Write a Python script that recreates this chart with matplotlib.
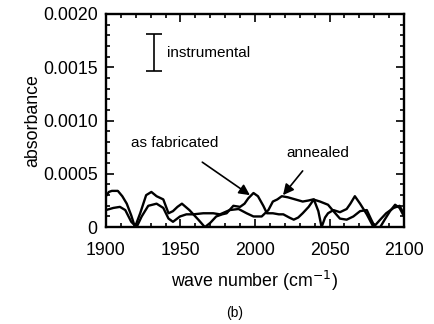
import numpy as np
import matplotlib.pyplot as plt
from matplotlib.ticker import MultipleLocator, FixedLocator

plt.rcParams['font.family'] = ['Liberation Sans', 'DejaVu Sans']

# "as fabricated" spectrum (wave number, absorbance)
fab_wn = [1900, 1902, 1904, 1908, 1911, 1914, 1917, 1919.5, 1923, 1927, 1930.5,
          1934, 1938.5, 1942, 1945, 1948, 1951, 1956, 1962, 1966.4, 1970, 1974,
          1978, 1981, 1985.5, 1990, 1993, 1995.5, 1999, 2002, 2005.6, 2008,
          2012, 2016, 2019, 2023, 2026, 2029, 2032, 2036, 2039.5, 2042.5,
          2044.7, 2047, 2049, 2052.6, 2057, 2061.5, 2064, 2067, 2070.5, 2075,
          2079.5, 2084, 2088, 2091, 2093, 2097, 2100]
fab_abs = [0.00029, 0.00033, 0.00034, 0.00034, 0.00029, 0.00022, 0.00011, 0.0,
           0.00013, 0.00030, 0.00033, 0.00029, 0.00026, 0.00013, 0.00015,
           0.00019, 0.00022, 0.00016, 0.00007, 0.0, 0.00004, 0.00010, 0.00012,
           0.00013, 0.00020, 0.00019, 0.00022, 0.00027, 0.00032, 0.00029,
           0.00020, 0.00013, 0.00013, 0.00012, 0.00012, 0.00009, 0.00007,
           0.00009, 0.00013, 0.00019, 0.00026, 0.00015, 0.0, 0.00009, 0.00013,
           0.00016, 0.00014, 0.00017, 0.00022, 0.00029, 0.00022, 0.00012, 0.0,
           0.00007, 0.00013, 0.00016, 0.00018, 0.00020, 0.00012]

# "annealed" spectrum
ann_wn = [1900, 1905, 1909.4, 1913, 1917, 1920.6, 1924, 1928.4, 1934, 1938.5,
          1942, 1945, 1949.7, 1954, 1958.6, 1965.3, 1972, 1976.5, 1983, 1989,
          1994.4, 1999, 2004.5, 2009, 2012, 2015, 2018, 2022, 2027, 2032,
          2036, 2039, 2043.6, 2049, 2052.6, 2057, 2061.5, 2066, 2070.5, 2075,
          2078, 2080.5, 2084, 2087, 2090.6, 2094, 2097, 2100]
ann_abs = [0.00016, 0.00018, 0.00019, 0.00016, 0.00005, 0.0, 0.00010, 0.00020,
           0.00022, 0.00018, 0.00008, 0.00005, 0.00010, 0.00012, 0.00012,
           0.00013, 0.00013, 0.00012, 0.00016, 0.00017, 0.00013, 0.00010,
           0.00010, 0.00016, 0.00024, 0.00026, 0.00029, 0.00028, 0.00026,
           0.00024, 0.00025, 0.00026, 0.00024, 0.00021, 0.00015, 0.00008,
           0.00007, 0.00010, 0.00015, 0.00016, 0.00007, 0.0, 0.0, 0.00007,
           0.00015, 0.00021, 0.00018, 0.00010]

# instrumental error bar
err_x = 1932
err_lo, err_hi = 0.00146, 0.00181

fig = plt.figure(figsize=(4.34, 3.24), dpi=100)
ax = fig.add_axes([0.244, 0.299, 0.687, 0.658])

ax.plot(fab_wn, fab_abs, color='black', lw=1.7)
ax.plot(ann_wn, ann_abs, color='black', lw=1.7)

ax.errorbar([err_x], [(err_lo + err_hi) / 2], yerr=[[(err_hi - err_lo) / 2]],
            fmt='none', ecolor='black', elinewidth=1.2, capsize=5.5, capthick=1.2)
ax.text(1941, 0.00163, 'instrumental', fontsize=11, va='center', ha='left')

ax.annotate('as fabricated', xy=(1996.6, 0.00030), xytext=(1946, 0.00079),
            fontsize=11, ha='center', va='center',
            arrowprops=dict(arrowstyle='-|>', color='black', lw=1.2,
                            mutation_scale=16, shrinkA=12, shrinkB=0))
ax.annotate('annealed', xy=(2018.8, 0.00030), xytext=(2042, 0.00070),
            fontsize=11, ha='center', va='center',
            arrowprops=dict(arrowstyle='-|>', color='black', lw=1.2,
                            mutation_scale=16, shrinkA=8, shrinkB=0))

ax.set_xlim(1900, 2100)
ax.set_ylim(0, 0.0020)
ax.xaxis.set_major_locator(MultipleLocator(50))
ax.xaxis.set_minor_locator(MultipleLocator(10))
ax.yaxis.set_major_locator(FixedLocator([0, 0.0005, 0.0010, 0.0015, 0.0020]))
ax.yaxis.set_minor_locator(MultipleLocator(0.0001))
ax.set_yticklabels(['0', '0.0005', '0.0010', '0.0015', '0.0020'])
ax.tick_params(which='both', direction='in', top=True, right=True,
               labelsize=12.8, width=1.2)
ax.tick_params(which='major', length=6)
ax.tick_params(axis='y', which='major', pad=6)
ax.tick_params(axis='x', which='major', pad=11)
ax.tick_params(which='minor', length=3)
for s in ax.spines.values():
    s.set_linewidth(1.7)

ax.set_xlabel('wave number (cm$^{-1}$)', fontsize=12.8, labelpad=7)
ax.set_ylabel('absorbance', fontsize=12.8, labelpad=1)
fig.text(0.541, 0.035, '(b)', fontsize=10, ha='center', va='center')

fig.savefig('out.png', dpi=100)
